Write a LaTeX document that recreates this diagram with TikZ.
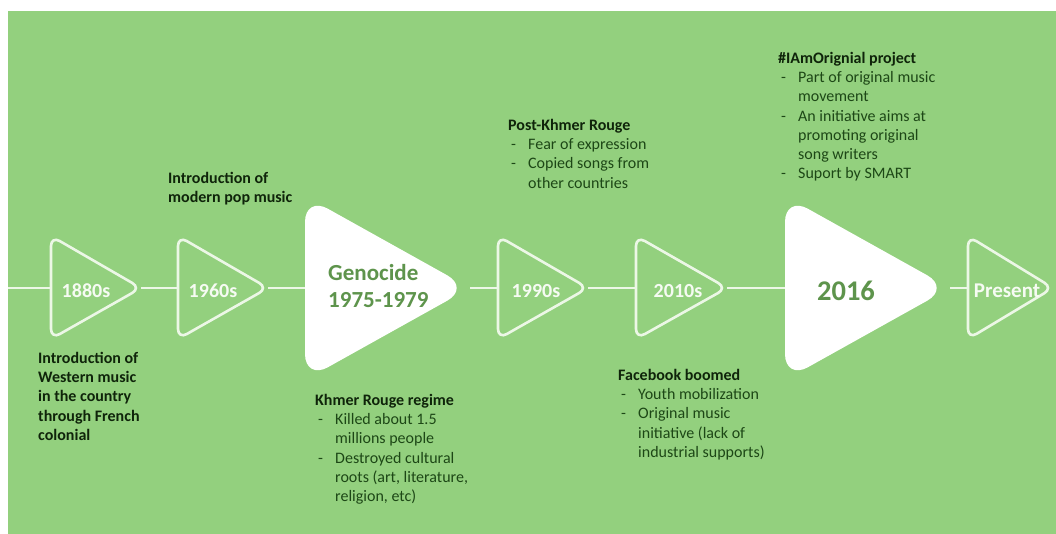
\documentclass[tikz,border=0pt]{standalone}
\usepackage{fontspec}
\setmainfont{Carlito}
\definecolor{bg}{HTML}{93D07E}
\definecolor{linec}{HTML}{ECF7E6}
\definecolor{yeartxt}{HTML}{F6FBF3}
\definecolor{bigtxt}{HTML}{5E944C}
\definecolor{headc}{HTML}{0F240A}
\definecolor{bulc}{HTML}{1D4716}
\newcommand{\bul}[1]{\makebox[20pt][l]{\hspace*{3pt}-}#1}
\newcommand{\cont}[1]{\hspace*{20pt}#1}
\newcommand{\fl}{\rule{0pt}{12pt}}
\begin{document}
\begin{tikzpicture}[x=1pt,y=-1pt,
  txt/.style={anchor=north west, inner sep=0pt, align=left, text=bulc,
    font=\fontsize{16}{19.3}\selectfont},
  hd/.style={font=\bfseries\fontsize{16}{19.3}\selectfont, text=headc},
  smalltri/.style={draw=linec, line width=2.6pt, rounded corners=10pt, fill=bg},
  bigtri/.style={fill=white, rounded corners=26pt},
  yearlbl/.style={inner sep=0pt, anchor=base, text=yeartxt, font=\bfseries\fontsize{20}{24}\selectfont},
  biglbl/.style={inner sep=0pt, anchor=base, text=bigtxt, font=\bfseries\fontsize{23}{27}\selectfont},
  conn/.style={draw=linec, line width=2pt}]
\useasboundingbox (0,0) rectangle (1056,534);
\fill[white] (0,0) rectangle (1056,534);
\fill[bg] (8,11) rectangle (1056,534);

% anchor coordinates on timeline
\coordinate (start) at (8,288);
\coordinate (t1L) at (51,288);   \coordinate (t1R) at (141,288);
\coordinate (t2L) at (178,288);  \coordinate (t2R) at (268,288);
\coordinate (g1L) at (305,288);  \coordinate (g1R) at (470,288);
\coordinate (t3L) at (498,288);  \coordinate (t3R) at (588,288);
\coordinate (t4L) at (636,288);  \coordinate (t4R) at (727,288);
\coordinate (g2L) at (785,288);  \coordinate (g2R) at (950,288);
\coordinate (t5L) at (968,288);  \coordinate (t5R) at (1053,288);

% connectors
\draw[conn] (start) -- (t1L);
\draw[conn] (t1R) -- (t2L);
\draw[conn] (t2R) -- (g1L);
\draw[conn] (g1R) -- (t3L);
\draw[conn] (t3R) -- (t4L);
\draw[conn] (t4R) -- (g2L);
\draw[conn] (g2R) -- (t5L);

% small triangles
\draw[smalltri] (51,236) -- (t1R) -- (51,339) -- cycle;
\draw[smalltri] (178,236) -- (t2R) -- (178,339) -- cycle;
\draw[smalltri] (498,236) -- (t3R) -- (498,339) -- cycle;
\draw[smalltri] (636,236) -- (t4R) -- (636,339) -- cycle;
\draw[smalltri] (968,236) -- (t5R) -- (968,339) -- cycle;
% big triangles
\fill[bigtri] (305,196) -- (g1R) -- (305,380) -- cycle;
\fill[bigtri] (785,196) -- (g2R) -- (785,380) -- cycle;

% labels in shapes
\node[yearlbl] (y1880) at (86,298) {1880s};
\node[yearlbl] (y1960) at (213,298) {1960s};
\node[yearlbl] (y1990) at (536,298) {1990s};
\node[yearlbl] (y2010) at (678,298) {2010s};
\node[yearlbl, font=\bfseries\fontsize{21}{24}\selectfont] (ypres) at (1007,298) {Present};
\node[biglbl, anchor=base west] (geno) at (328,280) {Genocide};
\node[biglbl, anchor=base west] (genoyr) at (328,307) {1975-1979};
\node[biglbl, font=\bfseries\fontsize{28.5}{30}\selectfont] (y2016) at (846,300) {2016};

% descriptions (north = first baseline - 12)
\node[txt, hd] (d1880) at (38,351) {\fl Introduction of\\Western music\\in the country\\through French\\colonial};
\node[txt, hd] (d1960) at (168,171) {\fl Introduction of\\modern pop music};
\node[txt] (dkr) at (315,393) {\fl\textbf{\color{headc}Khmer Rouge regime}\\
  \bul{Killed about 1.5}\\ \cont{millions people}\\
  \bul{Destroyed cultural}\\ \cont{roots (art, literature,}\\ \cont{religion, etc)}};
\node[txt] (dpost) at (508,118) {\fl\textbf{\color{headc}Post-Khmer Rouge}\\
  \bul{Fear of expression}\\
  \bul{Copied songs from}\\ \cont{other countries}};
\node[txt] (dfb) at (618,368) {\fl\textbf{\color{headc}Facebook boomed}\\
  \bul{Youth mobilization}\\
  \bul{Original music}\\ \cont{initiative (lack of}\\ \cont{industrial supports)}};
\node[txt] (diam) at (778,51) {\fl\textbf{\color{headc}\#IAmOrignial project}\\
  \bul{Part of original music}\\ \cont{movement}\\
  \bul{An initiative aims at}\\ \cont{promoting original}\\ \cont{song writers}\\
  \bul{Suport by SMART}};
\end{tikzpicture}
\end{document}
